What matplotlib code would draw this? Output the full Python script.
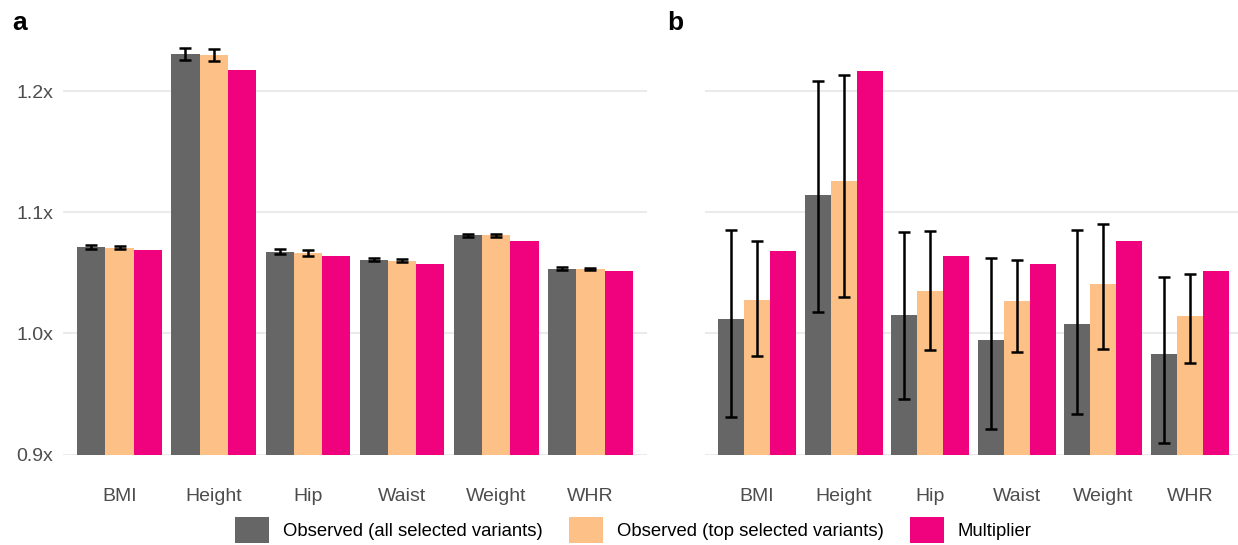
import numpy as np
import matplotlib
matplotlib.use("Agg")
import matplotlib.pyplot as plt
from matplotlib.patches import Patch

plt.rcParams["font.family"] = ["Liberation Sans", "DejaVu Sans"]

# Data
traits = ["BMI", "Height", "Hip", "Waist", "Weight", "WHR"]
series = ["Observed (all selected variants)", "Observed (top selected variants)", "Multiplier"]
colors = ["#666666", "#fdc086", "#f0027f"]

# panel a
a_all = [1.0710, 1.2303, 1.0672, 1.0609, 1.0810, 1.0535]
a_all_err = [0.0015, 0.0050, 0.0020, 0.0010, 0.0012, 0.0010]
a_top = [1.0708, 1.2300, 1.0663, 1.0601, 1.0809, 1.0531]
a_top_err = [0.0015, 0.0050, 0.0022, 0.0010, 0.0012, 0.0010]
a_mult = [1.0684, 1.2170, 1.0639, 1.0575, 1.0760, 1.0512]

# panel b
b_all = [1.0118, 1.1140, 1.0153, 0.9948, 1.0074, 0.9833]
b_all_lo = [0.9312, 1.0178, 0.9455, 0.9211, 0.9332, 0.9096]
b_all_hi = [1.0852, 1.2079, 1.0836, 1.0622, 1.0855, 1.0463]
b_top = [1.0279, 1.1255, 1.0351, 1.0268, 1.0405, 1.0142]
b_top_lo = [0.9811, 1.0296, 0.9863, 0.9847, 0.9871, 0.9753]
b_top_hi = [1.0762, 1.2132, 1.0847, 1.0603, 1.0899, 1.0493]
b_mult = [1.0682, 1.2162, 1.0638, 1.0575, 1.0759, 1.0512]

yticks = [0.9, 1.0, 1.1, 1.2]
base = 0.9

W, H = 1238, 545
fig = plt.figure(figsize=(W / 100, H / 100), dpi=100)

ytop = 1.24
ppu = (454.5 - 91) / 0.3  # pixels per unit
ax_top_px = 454.5 - (ytop - base) * ppu
fs = 14


def make_ax(x0, x1):
    return fig.add_axes([x0 / W, 1 - 454.5 / H, (x1 - x0) / W, (454.5 - ax_top_px) / H])


def style(ax, labels_on):
    ax.set_xlim(-0.6, len(traits) - 0.4)
    ax.set_ylim(base, ytop)
    ax.set_yticks(yticks)
    ax.set_yticklabels([f"{t:.1f}x" for t in yticks] if labels_on else [])
    ax.set_xticks(np.arange(len(traits)))
    ax.set_xticklabels(traits)
    ax.tick_params(length=0, labelsize=fs, labelcolor="#4d4d4d", pad=0)
    ax.tick_params(axis="x", pad=24)
    ax.tick_params(axis="y", pad=7)
    for s in ax.spines.values():
        s.set_visible(False)
    ax.grid(axis="y", color="#ebebeb", linewidth=1.5)
    ax.set_axisbelow(True)


x = np.arange(len(traits))
bw = 0.3
ekw = dict(fmt="none", ecolor="black", elinewidth=1.8, capsize=4, capthick=1.8, zorder=4)

# Panel a
ax1 = make_ax(63, 647)
style(ax1, True)
vals_a = [a_all, a_top, a_mult]
for i, v in enumerate(vals_a):
    ax1.bar(x + (i - 1) * bw, np.array(v) - base, bw, bottom=base, color=colors[i], zorder=3)
ax1.errorbar(x - bw, a_all, yerr=a_all_err, **ekw)
ax1.errorbar(x, a_top, yerr=a_top_err, **ekw)

# Panel b
ax2 = make_ax(705, 1242)
style(ax2, False)
vals_b = [b_all, b_top, b_mult]
for i, v in enumerate(vals_b):
    ax2.bar(x + (i - 1) * bw, np.array(v) - base, bw, bottom=base, color=colors[i], zorder=3)
b_all_a = np.array(b_all)
b_top_a = np.array(b_top)
ax2.errorbar(x - bw, b_all, yerr=[b_all_a - np.array(b_all_lo), np.array(b_all_hi) - b_all_a], **ekw)
ax2.errorbar(x, b_top, yerr=[b_top_a - np.array(b_top_lo), np.array(b_top_hi) - b_top_a], **ekw)

# Panel letters
fig.text(12 / W, 1 - 30 / H, "a", fontsize=19, fontweight="bold")
fig.text(667 / W, 1 - 30 / H, "b", fontsize=19, fontweight="bold")

# Legend
lfs = 13.3
handles = [Patch(facecolor=c, edgecolor="none") for c in colors]
fig.legend(handles, series, loc="center", bbox_to_anchor=(633.5 / W, 1 - 530 / H), ncol=3,
           frameon=False, fontsize=lfs, handlelength=1.84, handleheight=1.84,
           handletextpad=0.76, columnspacing=1.4, borderpad=0, labelcolor="black")

fig.savefig("out.png", dpi=100)
